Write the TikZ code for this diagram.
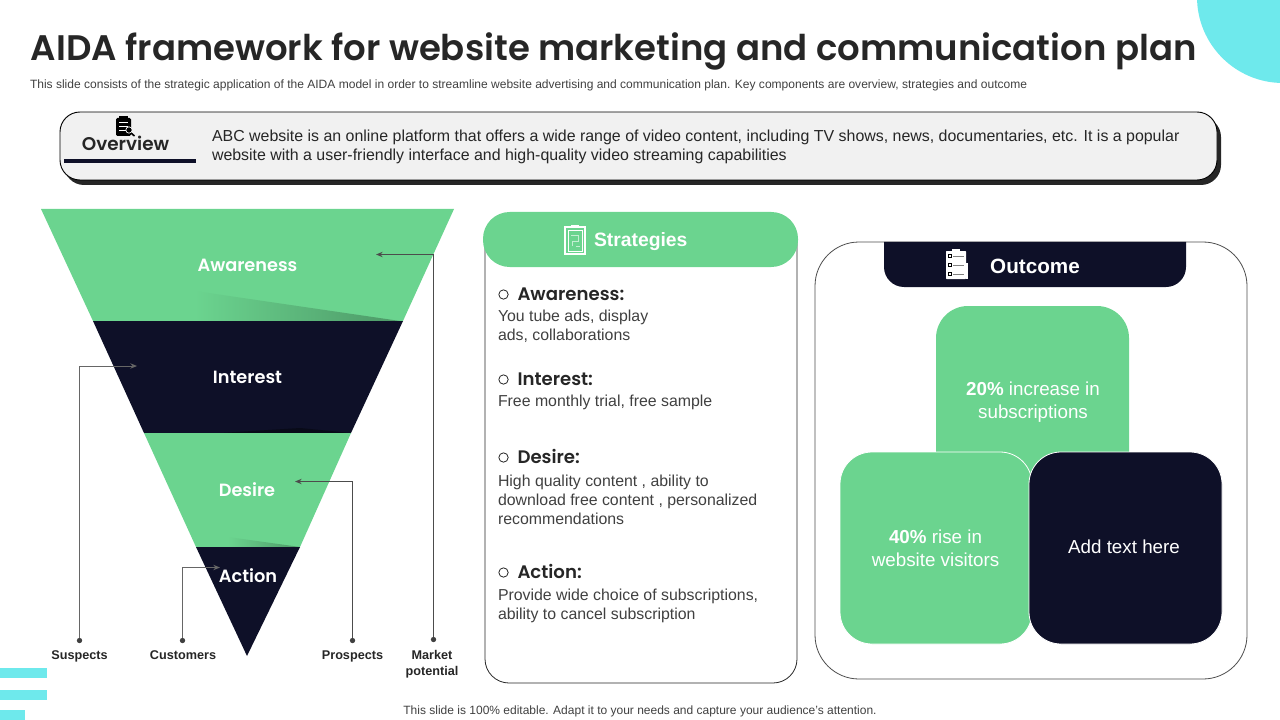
\documentclass[tikz,border=0pt]{standalone}
\usepackage{fontspec}
\setmainfont{Liberation Sans}
\newfontfamily\headfont{Poppins SemiBold}
\usetikzlibrary{arrows.meta}
\definecolor{mint}{HTML}{6BD48F}
\definecolor{navy}{HTML}{0E1028}
\definecolor{cyanish}{HTML}{6EE9EC}
\definecolor{panelgrey}{HTML}{F1F1F1}
\definecolor{ink}{HTML}{262626}
\definecolor{bodygrey}{HTML}{404040}
\newcommand{\fs}[1]{\fontsize{#1}{#1}\selectfont}
\tikzset{
  box/.style 2 args={minimum width=#1*0.75pt,minimum height=#2*0.75pt,inner sep=0pt,outer sep=0pt},
  lab/.style={inner sep=0pt,outer sep=0pt},
  funnellab/.style={lab,anchor=base,text=white,font=\headfont\fs{13.3}},
  tag/.style={lab,anchor=base,text=ink,font=\bfseries\fs{9.5},align=center},
  leader/.style={draw=#1,line width=0.75pt,-{Stealth[length=5pt,width=4pt]}},
  knob/.style={circle,fill=bodygrey,minimum size=4pt,inner sep=0pt,outer sep=0pt},
  itemhead/.style={lab,anchor=base west,text=ink,font=\headfont\fs{13.6}},
  itembody/.style={lab,anchor=west,align=left,text=bodygrey,font=\fontsize{11.9}{14.25}\selectfont},
  bullet/.style={circle,draw=ink,line width=0.6pt,minimum size=7pt,inner sep=0pt},
  boxtext/.style={align=center,text=white,font=\fontsize{14.1}{17.4}\selectfont},
}
\begin{document}
\begin{tikzpicture}[x=0.75pt,y=-0.75pt]
\useasboundingbox (0,0) rectangle (1280,720);
\begin{scope}
\clip (0,0) rectangle (1280,720);
\fill[cyanish] (1283,-3) circle (86);
\end{scope}
\fill[cyanish] (0,668) rectangle (47,678);
\fill[cyanish] (0,690) rectangle (47,700);
\fill[cyanish] (0,710) rectangle (25,720);

% title
\node[lab,anchor=base west,text=ink,font=\headfont\fs{26.62}] (title) at (31,61) {AIDA framework for website marketing and communication plan};
\node[lab,anchor=base west,text=bodygrey,font=\fs{9.02}] (subtitle) at (30,89) {This slide consists of the strategic application of the AIDA model in order to streamline website advertising and communication plan. Key components are overview, strategies and outcome};
\node[lab,anchor=base,text=bodygrey,font=\fs{9}] (footer) at (640,714) {This slide is 100\% editable. Adapt it to your needs and capture your audience's attention.};

% overview
\fill[ink,rounded corners=15pt] (64,117) rectangle (1221,185);
\node[box={1157}{68},draw=black,line width=0.7pt,fill=panelgrey,rounded corners=15pt] (overview) at (638.5,146) {};
\node[lab,anchor=base,text=ink,font=\headfont\fs{13.8}] (ovtitle) at (125.5,151) {Overview};
\draw[navy,line width=2.4pt] (64,161) -- (196,161);
\node[lab,anchor=west,align=left,text=ink,font=\fontsize{11.95}{14.25}\selectfont] (ovtext) at (212,147) {ABC website is an online platform that offers a wide range of video content, including TV shows, news, documentaries, etc. It is a popular\\website with a user-friendly interface and high-quality video streaming capabilities};
% overview icon
\fill[black,rounded corners=1pt] (116,118) rectangle (131,136);
\fill[black] (119,116.5) rectangle (128,118);
\foreach \yy in {122,126,130} \draw[white,line width=0.4pt] (119,\yy) -- (128,\yy);
\draw[white,fill=black,line width=0.5pt] (129,130) circle (3.2);
\draw[black,line width=1.2pt] (131,133) -- (134.5,136);

% funnel
\fill[mint] (41,209) -- (454,209) -- (403,321) -- (93,321) -- cycle;
\shade[left color=mint,right color=black!28!mint,shading angle=90] (195,291) -- (400,321) -- (195,321) -- cycle;
\fill[navy] (93,321) -- (403,321) -- (351,433) -- (144,433) -- cycle;
\fill[black!40!navy] (220,433) -- (351,433) -- (300,428) -- cycle;
\fill[mint] (144,433) -- (351,433) -- (300,547) -- (196,547) -- cycle;
\shade[left color=mint,right color=black!28!mint,shading angle=90] (228,537) -- (300,547) -- (228,547) -- cycle;
\fill[navy] (196,547) -- (300,547) -- (247,656) -- cycle;
\node[funnellab] (aw) at (247.5,271.5) {Awareness};
\node[funnellab] (in) at (247.5,383.5) {Interest};
\node[funnellab] (de) at (247,496.5) {Desire};
\node[funnellab] (ac) at (248,582.5) {Action};

% tags and leaders
\node[tag] (tsus) at (79.5,659) {Suspects};
\node[tag] (tcus) at (183,659) {Customers};
\node[tag] (tpro) at (352.5,659) {Prospects};
\node[tag] (tmar) at (432,659) {Market};
\node[tag] (tmar2) at (432,675) {potential};
\node[knob] (ksus) at (79.5,640.5) {};
\node[knob] (kcus) at (182.5,640.5) {};
\node[knob] (kpro) at (352.5,640.5) {};
\node[knob] (kmar) at (433.5,639.5) {};
\coordinate (esus) at (137,366);
\coordinate (ecus) at (220,567.5);
\coordinate (epro) at (295,481.5);
\coordinate (emar) at (376,254.5);
\draw[leader=black!60] (ksus) |- (esus);
\draw[leader=black!60] (kcus) |- (ecus);
\draw[leader=black!70] (kpro) |- (epro);
\draw[leader=black!70] (kmar) |- (emar);

% strategies
\node[box={312}{468},draw=ink,line width=0.6pt,rounded corners=18pt] (stratpanel) at (641,449) {};
\node[box={315}{55},fill=mint,rounded corners=20pt] (strathead) at (640.5,239.5) {};
\node[lab,anchor=base west,text=white,font=\bfseries\fs{14.5}] (strattitle) at (594,247) {Strategies};
% strategies icon
\draw[white,line width=1pt] (565,227) rectangle (585,254);
\draw[white,line width=0.5pt] (568,230) rectangle (582,251);
\draw[white,line width=1.4pt] (571,226) -- (579,226);
\draw[white!60!mint,line width=0.5pt] (571,235) -- (578,235) -- (578,241) -- (572,241) -- (572,246);
\draw[white!60!mint,line width=0.5pt] (576,246) -- (580,246);

\node[bullet] (b1) at (503.5,294.5) {};
\node[itemhead] (h1) at (517.5,300) {Awareness:};
\node[itembody] (t1) at (498,326) {You tube ads, display\\ads, collaborations};
\node[bullet] (b2) at (503.5,379.5) {};
\node[itemhead] (h2) at (517.5,385) {Interest:};
\node[itembody] (t2) at (498,402) {Free monthly trial, free sample};
\node[bullet] (b3) at (503.5,457.5) {};
\node[itemhead] (h3) at (517.5,463) {Desire:};
\node[itembody] (t3) at (498,499.5) {High quality content , ability to\\download free content , personalized\\recommendations};
\node[bullet] (b4) at (503.5,572.5) {};
\node[itemhead] (h4) at (517.5,578) {Action:};
\node[itembody] (t4) at (498,606) {Provide wide choice of subscriptions,\\ability to cancel subscription};

% outcome
\node[box={432}{437},draw=black!70,line width=0.6pt,rounded corners=33pt] (outpanel) at (1031,460.5) {};
\fill[navy] (884,242) [rounded corners=15pt] -- (884,287) -- (1186,287) [sharp corners] -- (1186,242) -- cycle;
\node[lab,anchor=base,text=white,font=\bfseries\fs{15.5}] (outtitle) at (1035,273.5) {Outcome};
% outcome icon
\fill[white,rounded corners=0.5pt] (946,251) rectangle (966,279);
\fill[white] (952,249) rectangle (960,252);
\fill[white] (966,263) rectangle (968,279);
\foreach \yy in {256,265,274} {
  \draw[black,line width=0.5pt] (948,\yy-1.5) rectangle (951,\yy+1.5);
  \draw[black!50,line width=0.5pt] (953,\yy) -- (964,\yy);
}

\node[box={193}{194},fill=mint,rounded corners=24pt] (o1) at (1032.5,403) {};
\node[lab,boxtext] (o1t) at (1033,402) {\textbf{20\%} increase in\\subscriptions};
\node[box={192}{192},fill=mint,draw=white,line width=0.6pt,rounded corners=24pt] (o2) at (936,548) {};
\node[lab,boxtext] (o2t) at (935.5,548) {\textbf{40\%} rise in\\website visitors};
\node[box={193}{192},fill=navy,draw=white,line width=0.6pt,rounded corners=24pt] (o3) at (1125.5,548) {};
\node[lab,boxtext] (o3t) at (1124,547) {Add text here};
\end{tikzpicture}
\end{document}
